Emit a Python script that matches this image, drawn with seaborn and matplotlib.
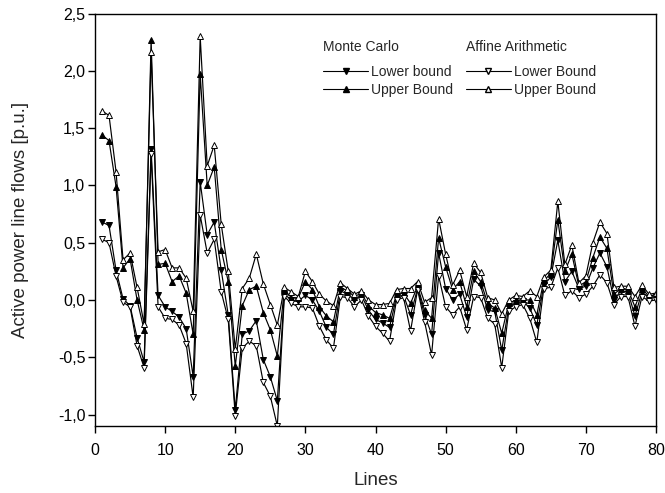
import matplotlib
matplotlib.use("Agg")
import matplotlib.pyplot as plt
from matplotlib.ticker import FuncFormatter, MultipleLocator
from matplotlib.lines import Line2D
import numpy as np
import pandas as pd
import seaborn as sns

# Line index (1..80)
lines = list(range(1, 81))

# Monte Carlo lower bound [p.u.]
mc_lower = [0.68, 0.65, 0.26, 0.01, -0.05, -0.33, -0.54, 1.32, 0.04, -0.06,
            -0.10, -0.15, -0.25, -0.67, 1.03, 0.57, 0.68, 0.26, -0.13, -0.96,
            -0.30, -0.27, -0.18, -0.52, -0.67, -0.88, 0.05, 0.00, -0.01, 0.04,
            0.00, -0.10, -0.24, -0.30, 0.08, 0.05, 0.00, 0.04, -0.09, -0.17,
            -0.20, -0.24, 0.03, 0.04, -0.13, 0.10, -0.13, -0.30, 0.41, 0.10,
            0.00, 0.05, -0.15, 0.18, 0.12, -0.09, -0.10, -0.44, -0.06, -0.03,
            -0.01, -0.07, -0.22, 0.13, 0.20, 0.52, 0.16, 0.25, 0.10, 0.12,
            0.28, 0.41, 0.29, 0.00, 0.08, 0.07, -0.14, 0.07, 0.02, 0.03]

# Monte Carlo upper bound [p.u.]
mc_upper = [1.44, 1.39, 0.99, 0.28, 0.36, 0.00, -0.26, 2.27, 0.31, 0.32,
            0.16, 0.21, 0.06, -0.30, 1.97, 1.00, 1.16, 0.44, 0.16, -0.58,
            -0.05, 0.09, 0.12, -0.11, -0.26, -0.49, 0.09, 0.02, 0.02, 0.16,
            0.09, -0.06, -0.14, -0.19, 0.11, 0.08, 0.03, 0.06, -0.05, -0.11,
            -0.13, -0.16, 0.05, 0.06, -0.03, 0.12, -0.09, -0.16, 0.54, 0.29,
            0.09, 0.16, -0.06, 0.25, 0.16, -0.03, -0.07, -0.29, -0.03, 0.00,
            0.00, 0.00, -0.13, 0.17, 0.23, 0.70, 0.25, 0.40, 0.12, 0.16,
            0.37, 0.55, 0.45, 0.05, 0.10, 0.09, -0.06, 0.10, 0.03, 0.05]

# Affine Arithmetic lower bound [p.u.]
aa_lower = [0.53, 0.50, 0.21, -0.02, -0.06, -0.40, -0.59, 1.27, -0.06, -0.16,
            -0.17, -0.22, -0.38, -0.85, 0.74, 0.41, 0.53, 0.07, -0.17, -1.01,
            -0.42, -0.36, -0.40, -0.72, -0.84, -1.10, 0.03, -0.03, -0.06, -0.06,
            -0.07, -0.23, -0.35, -0.42, 0.03, 0.02, -0.06, 0.00, -0.14, -0.23,
            -0.29, -0.36, 0.00, 0.02, -0.27, 0.09, -0.19, -0.48, 0.21, -0.06,
            -0.13, -0.06, -0.26, 0.03, 0.02, -0.16, -0.21, -0.59, -0.10, -0.06,
            -0.04, -0.16, -0.37, 0.10, 0.11, 0.28, 0.04, 0.08, 0.02, 0.05,
            0.12, 0.22, 0.15, -0.04, 0.03, 0.03, -0.23, 0.03, -0.01, 0.00]

# Affine Arithmetic upper bound [p.u.]
aa_upper = [1.65, 1.61, 1.12, 0.35, 0.41, 0.11, -0.21, 2.16, 0.42, 0.44,
            0.28, 0.28, 0.19, -0.10, 2.30, 1.17, 1.35, 0.66, 0.25, -0.43,
            0.10, 0.19, 0.40, 0.14, -0.04, -0.22, 0.11, 0.07, 0.03, 0.25,
            0.16, 0.05, -0.01, -0.05, 0.15, 0.10, 0.05, 0.08, 0.00, -0.04,
            -0.04, -0.03, 0.09, 0.10, 0.10, 0.16, -0.02, 0.02, 0.71, 0.40,
            0.13, 0.26, 0.03, 0.32, 0.24, 0.02, 0.00, -0.12, 0.00, 0.04,
            0.03, 0.08, 0.03, 0.20, 0.26, 0.86, 0.31, 0.48, 0.15, 0.21,
            0.50, 0.68, 0.58, 0.11, 0.12, 0.12, 0.03, 0.13, 0.05, 0.06]

series_names = ["MC lower", "MC upper", "AA lower", "AA upper"]
legend_labels = ["Lower bound", "Upper Bound", "Lower Bound", "Upper Bound"]

df = pd.concat([
    pd.DataFrame({"Line": lines, "Flow": vals, "Series": name})
    for name, vals in zip(series_names, [mc_lower, mc_upper, aa_lower, aa_upper])
], ignore_index=True)

sns.set_theme(style="ticks")
plt.rcParams["font.family"] = ["Liberation Sans", "DejaVu Sans"]

fig = plt.figure(figsize=(6.65, 4.93), dpi=100)
W, H = 665, 493
left, right, top, bottom = 95, 656, 13.5, 426
ax = fig.add_axes([left / W, 1 - bottom / H, (right - left) / W, (bottom - top) / H])

styles = {
    "MC lower": dict(marker="v", markerfacecolor="black"),
    "MC upper": dict(marker="^", markerfacecolor="black"),
    "AA lower": dict(marker="v", markerfacecolor="white"),
    "AA upper": dict(marker="^", markerfacecolor="white"),
}

for name in series_names:
    sns.lineplot(data=df[df["Series"] == name], x="Line", y="Flow", ax=ax,
                 color="black", linewidth=0.85, markersize=5,
                 markeredgecolor="black", markeredgewidth=0.7,
                 clip_on=True, legend=False, **styles[name])

ax.set_xlim(0, 80)
ax.set_ylim(-1.1, 2.5)
ax.xaxis.set_major_locator(MultipleLocator(10))
ax.yaxis.set_major_locator(MultipleLocator(0.5))
ax.yaxis.set_major_formatter(FuncFormatter(lambda v, p: f"{v:.1f}".replace(".", ",")))
ax.xaxis.set_major_formatter(FuncFormatter(lambda v, p: f"{v:.0f}"))

for s in ax.spines.values():
    s.set_visible(True)
    s.set_linewidth(1.0)
    s.set_color("black")
ax.tick_params(axis="both", direction="out", length=5, width=1.0,
               labelsize=11.5, colors="black")
ax.tick_params(axis="y", pad=2)
ax.tick_params(axis="x", pad=7)

ax.set_xlabel("Lines", fontsize=13.5, labelpad=10)
ax.set_ylabel("Active power line flows [p.u.]", fontsize=13.5, labelpad=20.5)

handles = [
    Line2D([], [], color="black", linewidth=0.8, marker="v", markersize=4,
           markerfacecolor="black", markeredgecolor="black"),
    Line2D([], [], color="black", linewidth=0.8, marker="^", markersize=4,
           markerfacecolor="black", markeredgecolor="black"),
    Line2D([], [], color="black", linewidth=0.8, marker="v", markersize=4,
           markerfacecolor="white", markeredgecolor="black"),
    Line2D([], [], color="black", linewidth=0.8, marker="^", markersize=4,
           markerfacecolor="white", markeredgecolor="black"),
]
def ax_x(px):
    return (px - left) / (right - left)
def ax_y(py):
    return (bottom - py) / (bottom - top)

leg = ax.legend(handles, legend_labels, ncol=2, frameon=False, fontsize=10,
                loc="upper left", bbox_to_anchor=(ax_x(323), ax_y(64.5)),
                borderaxespad=0, borderpad=0, handlelength=3.24,
                handletextpad=0.22, columnspacing=0.9, labelspacing=0.3,
                numpoints=1)

ax.text(ax_x(323), ax_y(47), "Monte Carlo", fontsize=10, va="center", ha="left",
        transform=ax.transAxes)
ax.text(ax_x(466), ax_y(47), "Affine Arithmetic", fontsize=10, va="center",
        ha="left", transform=ax.transAxes)

fig.savefig("out.png", dpi=100, facecolor="white")
